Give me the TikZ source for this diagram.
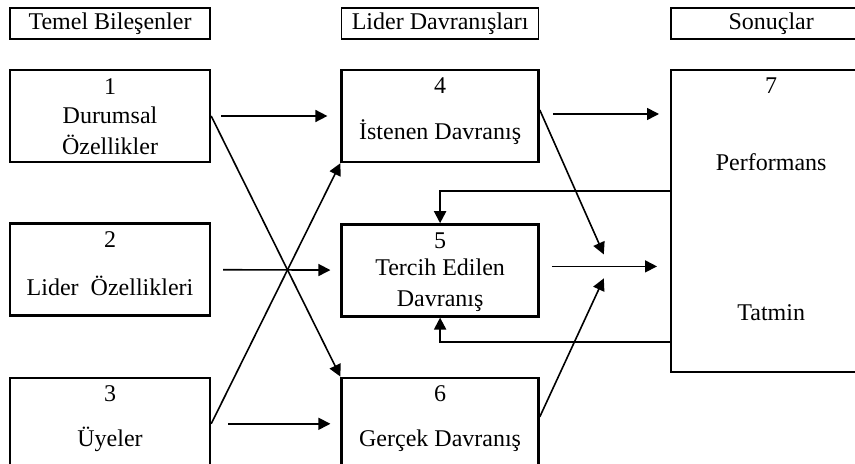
\documentclass[tikz,border=0pt]{standalone}
\usepackage{fontspec}
\setmainfont{Liberation Serif}
\usetikzlibrary{positioning, arrows.meta, calc}

\begin{document}
\begin{tikzpicture}[
    x=0.5pt, y=-0.5pt,
    font=\fontsize{12}{15.5}\selectfont,
    head/.style={rectangle, draw, line width=0.8pt, minimum width=#1,
                 minimum height=15.5pt, inner sep=0pt},
    head/.default=100pt,
    box/.style={rectangle, draw, line width=1.2pt, minimum width=#1,
                minimum height=46pt, inner sep=0pt},
    box/.default=100pt,
    num/.style={inner sep=0pt},
    txt/.style={inner sep=0pt, align=center},
    arr/.style={-{Triangle[length=6pt, width=6pt]}, line width=0.8pt}
]
\useasboundingbox (0,0) rectangle (855,464);

% column headers
\node[head] (h1) at (110,23.5) {Temel Bileşenler};
\node[head=98.5pt, right=65pt of h1] (h2) {Lider Davranışları};
\node[head, right=65.5pt of h2] (h3) {Sonuçlar};

% boxes
\node[box, below=14.5pt of h1] (b1) {};
\node[box, below=29.5pt of b1] (b2) {};
\node[box, below=30pt of b2] (b3) {};
\node[box=98.5pt, below=14.5pt of h2] (b4) {};
\node[box=98.5pt, below=30pt of b4] (b5) {};
\node[box=98.5pt, below=29.5pt of b5] (b6) {};
\node[box, minimum height=151pt, below=14.5pt of h3] (b7) {};

% numbers and texts
\node[num, below=4.5pt of b1.north] (n1) {1};
\node[num, below=4.5pt of b2.north] (n2) {2};
\node[num, below=4.5pt of b3.north] (n3) {3};
\node[num, below=4.5pt of b4.north] (n4) {4};
\node[num, below=4.5pt of b5.north] (n5) {5};
\node[num, below=4.5pt of b6.north] (n6) {6};
\node[num, below=4.5pt of b7.north] (n7) {7};
\node[txt, yshift=-7.5pt] (t1) at (b1) {Durumsal\\Özellikler};
\node[txt, yshift=-8pt] (t2) at (b2) {Lider\ \ Özellikleri};
\node[txt, yshift=-8pt] (t3) at (b3) {Üyeler};
\node[txt, yshift=-8pt] (t4) at (b4) {İstenen Davranış};
\node[txt, yshift=-7.5pt] (t5) at (b5) {Tercih Edilen\\Davranış};
\node[txt, yshift=-8.5pt] (t6) at (b6) {Gerçek Davranış};
\node[txt, yshift=29.5pt] (t7a) at (b7) {Performans};
\node[txt, yshift=-46pt] (t7b) at (b7) {Tatmin};

% meeting points before box 7
\coordinate (ja) at ([xshift=32pt, yshift=8pt]b5.east);
\coordinate (jb) at ([xshift=32pt, yshift=-4pt]b5.east);

\draw[arr, shorten <=5pt, shorten >=6.5pt] (b1) -- (b4);
\draw[arr, shorten <=6pt, shorten >=5pt] (b2) -- (b5);
\draw[arr, shorten <=8.5pt, shorten >=5pt] (b3) -- (b6);
\draw[arr] (b1.east) -- (b6.north west);
\draw[arr] (b3.east) -- (b4.south west);

\draw[arr, shorten <=6.5pt, shorten >=5.5pt] ([yshift=1pt]b4.east) -- ([yshift=1pt]b4.east -| b7.west);
\draw[arr, shorten <=6pt, shorten >=6.5pt] ([yshift=2pt]b5.east) -- ([yshift=2pt]b5.east -| b7.west);
\draw[arr] ([yshift=3pt]b4.east) -- (ja);
\draw[arr] ([yshift=3.5pt]b6.east) -- (jb);

\draw[arr, line width=1pt] ([yshift=15pt]b7.west) -| (b5.north);
\draw[arr, line width=1pt] ([yshift=-60.5pt]b7.west) -| (b5.south);
\end{tikzpicture}
\end{document}
